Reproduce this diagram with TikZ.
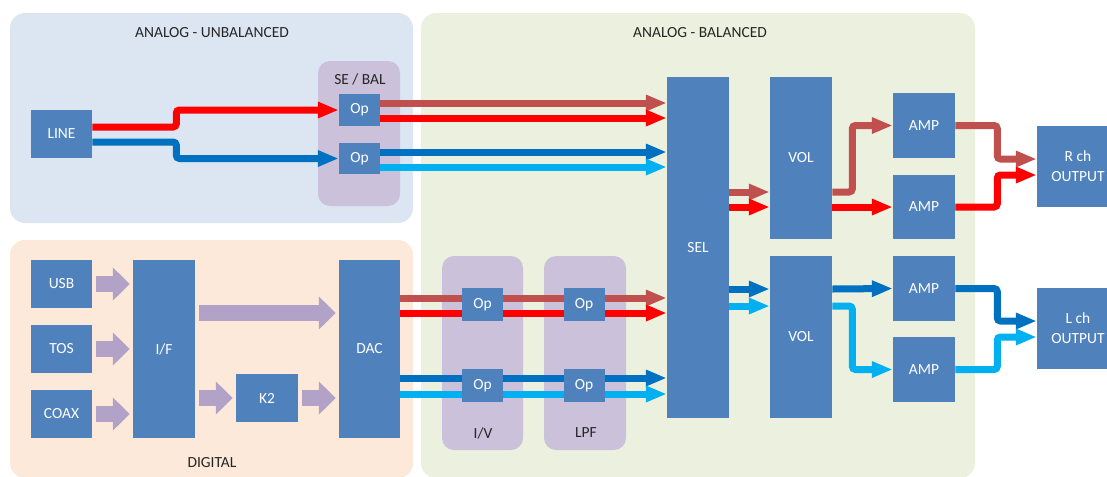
\documentclass[tikz,border=0pt]{standalone}
\usepackage{fontspec}
\setmainfont{Carlito}
\usepackage{tikz}
\usepackage{xcolor}
\usetikzlibrary{calc,arrows.meta,positioning}
\definecolor{blockfill}{HTML}{4F81BD}
\definecolor{dred}{HTML}{C0504D}
\definecolor{rred}{HTML}{FF0000}
\definecolor{dblu}{HTML}{0070C0}
\definecolor{lblu}{HTML}{00B0F0}
\definecolor{fatpurple}{HTML}{B3A2C7}
\definecolor{pblue}{HTML}{DCE6F2}
\definecolor{pgreen}{HTML}{EBF1DE}
\definecolor{ppeach}{HTML}{FDE9D9}
\definecolor{ppurp}{HTML}{CCC1DA}
\definecolor{ink}{HTML}{262626}
\newcommand{\pxl}{0.025cm}

\begin{document}
\begin{tikzpicture}[
    x=0.025cm, y=-0.025cm,
    every node/.style={font=\fontsize{11}{14}\selectfont},
    paneltext/.style={text=ink},
    blk/.style 2 args={fill=blockfill, text=white, inner sep=0pt, align=center,
        minimum width=#1*\pxl, minimum height=#2*\pxl},
    sig/.style={line width=0.175cm, rounded corners=0.08cm,
        -{Triangle[length=0.52cm,width=0.38cm]}},
    fat/.style={draw=fatpurple, line width=0.42cm,
        shorten <=0.1cm, shorten >=0.075cm,
        -{Triangle[length=0.42cm,width=0.8cm]}}
]
\useasboundingbox (0,0) rectangle (1107,476);
\clip (0,0) rectangle (1107,476);
\begin{scope}[overlay]
%====================================================
% PANELS
%====================================================
\fill[pblue, rounded corners=0.375cm] (10,13) rectangle (413,223);
\fill[pgreen, rounded corners=0.375cm] (421,13) rectangle (975,478);
\fill[ppeach, rounded corners=0.375cm] (10,240) rectangle (413,478);
\fill[ppurp, rounded corners=0.3cm] (318,61) rectangle (400,206);
\fill[ppurp, rounded corners=0.3cm] (442,256) rectangle (523,450);
\fill[ppurp, rounded corners=0.3cm] (544,256) rectangle (626,450);
\node[paneltext] (unbal) at (212,33) {ANALOG - UNBALANCED};
\node[paneltext] (bal) at (700,33) {ANALOG - BALANCED};
\node[paneltext] (digi) at (212,463) {DIGITAL};
\node[paneltext] (sebal) at (360,79) {SE / BAL};
\node[paneltext] (iv) at (483,433) {I/V};
\node[paneltext] (lpf) at (586,433) {LPF};

%====================================================
% BLOCKS
%====================================================
\node[blk={61}{48}] (line) at (61.5,134) {LINE};
\node[blk={41}{32}] (op1) at (359.5,110) {Op};
\node[blk={41}{31}] (op2) at (359.5,158.5) {Op};
\node[blk={62}{341}] (sel) at (698,247.5) {SEL};
\node[blk={62}{162}] (volr) at (801,158) {VOL};
\node[blk={62}{162}] (voll) at (801,337) {VOL};
\node[blk={62}{65}] (ampa) at (924,125.5) {AMP};
\node[blk={62}{64}] (ampb) at (924,207) {AMP};
\node[blk={62}{65}] (ampc) at (924,288.5) {AMP};
\node[blk={62}{65}] (ampd) at (924,369.5) {AMP};
\node[blk={82}{81}] (rout) at (1078,166.5) {R ch\\OUTPUT};
\node[blk={82}{81}] (lout) at (1078,328.5) {L ch\\OUTPUT};
\node[blk={61}{48}] (usb) at (61.5,284) {USB};
\node[blk={61}{48}] (tos) at (61.5,349) {TOS};
\node[blk={61}{48}] (coax) at (61.5,414) {COAX};
\node[blk={62}{178}] (ifc) at (164,349) {I/F};
\node[blk={62}{48}] (k2) at (267,398) {K2};
\node[blk={61}{178}] (dac) at (369.5,349) {DAC};

%====================================================
% DAC TO SEL (under the Op stages)
%====================================================
\foreach \y/\c in {298/dred,313/rred,378/dblu,394/lblu}
{
    \draw[sig,\c] (dac.east |- 0,\y) -- (sel.west |- 0,\y);
}
\node[blk={41}{33}] (iva) at (482.5,304.5) {Op};
\node[blk={41}{33}] (ivb) at (482.5,385.5) {Op};
\node[blk={41}{33}] (lpfa) at (584,304.5) {Op};
\node[blk={41}{33}] (lpfb) at (584,385.5) {Op};

%====================================================
% ANALOG SIGNALS
%====================================================
\draw[sig,rred] ($(line.east)+(0,-7)$) -- ++(84,0) |- (op1.west);
\draw[sig,dblu] ($(line.east)+(0,8)$) -- ++(84,0) |- (op2.west);
\foreach \n/\y/\c in {op1/103/dred,op1/118/rred,op2/152/dblu,op2/167/lblu}
{
    \draw[sig,\c] (\n.east |- 0,\y) -- (sel.west |- 0,\y);
}
\foreach \n/\y/\c in {volr/192/dred,volr/207/rred,voll/289/dblu,voll/306/lblu}
{
    \draw[sig,\c] (sel.east |- 0,\y) -- (\n.west |- 0,\y);
}
\draw[sig,dred] (volr.east |- 0,192) -- ++(20,0) |- (ampa.west);
\draw[sig,rred] (volr.east |- 0,207) -- (ampb.west);
\draw[sig,dblu] (voll.east |- 0,289) -- (ampc.west);
\draw[sig,lblu] (voll.east |- 0,306) -- ++(20,0) |- (ampd.west);
\draw[sig,dred] (ampa.east) -- ++(42,0) |- (rout.west |- 0,159);
\draw[sig,rred] (ampb.east) -- ++(42,0) |- (rout.west |- 0,175);
\draw[sig,dblu] (ampc.east) -- ++(42,0) |- (lout.west |- 0,321);
\draw[sig,lblu] (ampd.east) -- ++(42,0) |- (lout.west |- 0,337);

%====================================================
% DIGITAL SIGNALS
%====================================================
\foreach \n in {usb,tos,coax}
{
    \draw[fat] (\n.east) -- (ifc.west |- \n.east);
}
\draw[fat] (ifc.east |- 0,313) -- (dac.west |- 0,313);
\draw[fat] (ifc.east |- k2.west) -- (k2.west);
\draw[fat] (k2.east) -- (dac.west |- k2.east);
\end{scope}
\end{tikzpicture}
\end{document}
